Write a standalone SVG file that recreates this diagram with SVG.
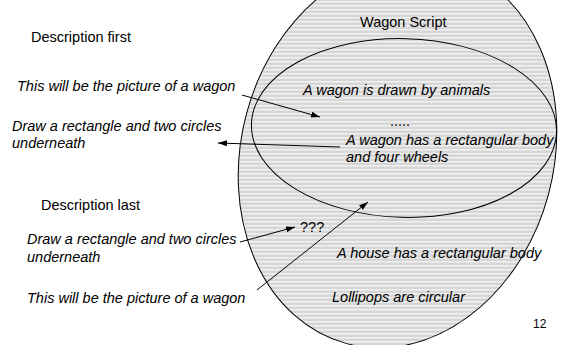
<svg xmlns="http://www.w3.org/2000/svg" width="573" height="345" viewBox="0 0 573 345">
<style>
text{font-family:"Liberation Sans",Arial,sans-serif;font-size:14.5px;fill:#000}
.i{font-style:italic}
.ln{stroke:#000;stroke-width:1;fill:none}
</style>
<defs>
<pattern id="hatch" patternUnits="userSpaceOnUse" width="8" height="4" patternTransform="rotate(-15)">
<rect x="0" y="0" width="8" height="4" fill="#d6d6d6"/>
<rect x="0" y="3" width="8" height="1" fill="#ffffff"/>
</pattern>
<marker id="ah" viewBox="0 0 9 6" refX="9" refY="3" markerWidth="9" markerHeight="6" markerUnits="userSpaceOnUse" orient="auto">
<path d="M0,0 L9,3 L0,6 z" fill="#000"/>
</marker>
</defs>
<rect width="573" height="345" fill="#fff"/>
<g id="script">
<ellipse cx="397.5" cy="154" rx="156.3" ry="196.3" transform="rotate(15 397.5 154)" fill="url(#hatch)" stroke="#000" stroke-width="1"/>
<text x="360" y="27">Wagon Script</text>
</g>
<g id="inner">
<ellipse cx="404" cy="128" rx="152.6" ry="89.4" transform="rotate(1.5 404 128)" class="ln"/>
<text class="i" x="303" y="95">A wagon is drawn by animals</text>
<text x="390" y="126">.....</text>
<text class="i" x="346" y="145">A wagon has a rectangular body</text>
<text class="i" x="346" y="162">and four wheels</text>
</g>
<g id="outer-texts">
<text x="300" y="232">???</text>
<text class="i" x="337" y="258">A house has a rectangular body</text>
<text class="i" x="332" y="302">Lollipops are circular</text>
</g>
<g id="first">
<text x="31" y="42">Description first</text>
<text class="i" x="17" y="91">This will be the picture of a wagon</text>
<text class="i" x="12" y="131">Draw a rectangle and two circles</text>
<text class="i" x="12" y="148">underneath</text>
</g>
<g id="last">
<text x="41" y="210">Description last</text>
<text class="i" x="27" y="244">Draw a rectangle and two circles</text>
<text class="i" x="27" y="262">underneath</text>
<text class="i" x="27" y="303">This will be the picture of a wagon</text>
</g>
<g id="page"><text x="533" y="328" style="font-size:12px">12</text></g>
<g id="connectors" class="ln">
<line x1="242" y1="95" x2="320" y2="117" marker-end="url(#ah)"/>
<line x1="340" y1="147" x2="218" y2="143" marker-end="url(#ah)"/>
<line x1="240" y1="242" x2="295" y2="227" marker-end="url(#ah)"/>
<line x1="257" y1="290" x2="368" y2="202" marker-end="url(#ah)"/>
</g>
</svg>
